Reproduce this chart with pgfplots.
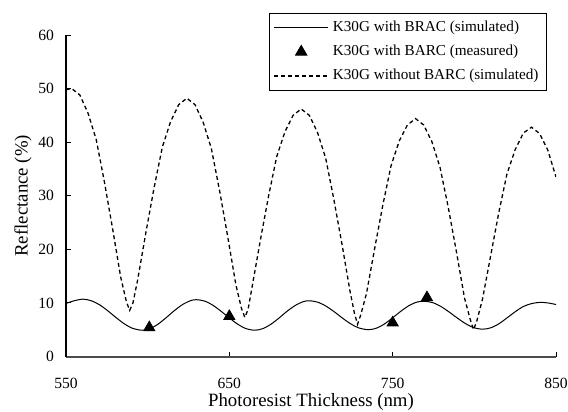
\documentclass[border=0pt]{standalone}
\usepackage{fontspec}
\setmainfont{Liberation Serif}
\usepackage{pgfplots}
\pgfplotsset{compat=1.18}
\pgfplotsset{
  lineleg/.style={legend image code/.code={\draw[##1] (0pt,0pt) -- (27pt,0pt);}},
  markleg/.style={legend image code/.code={\draw[##1] plot coordinates {(13.5pt,0pt)};}},
}

\begin{document}
\begin{tikzpicture}
\begin{axis}[
  scale only axis, width=245pt, height=160.75pt,
  xmin=550, xmax=850, ymin=0, ymax=60,
  axis lines=left, axis line style={-},
  x axis line style={gray!60!black, line width=1pt},
  y axis line style={black, line width=0.7pt},
  xtick={550,650,750,850}, ytick={0,10,...,60},
  tick align=inside, major tick length=2.5pt,
  tick style={black, line width=0.5pt},
  /pgf/number format/assume math mode=true,
  ticklabel style={font=\fontsize{7.8}{9}\selectfont},
  xticklabel style={inner sep=1pt, yshift=-9.75pt},
  yticklabel style={xshift=-2.5pt},
  xlabel={Photoresist Thickness (nm)},
  ylabel={Reflectance (\%)},
  label style={font=\fontsize{9.4}{11}\selectfont},
  xlabel style={inner sep=0pt, yshift=-1.2pt},
  ylabel style={yshift=-3.5pt},
  legend style={at={(0.9816,1.0694)}, anchor=north east, draw=black,
    line width=0.5pt, font=\fontsize{7.6}{9}\selectfont,
    row sep=1.2pt, cells={anchor=west}, inner xsep=2pt, inner ysep=2pt},
  legend cell align=left,
]
\addplot[black, line width=0.5pt, smooth, lineleg] coordinates {
  (550,9.9) (555,10.4) (560.5,10.7) (565.5,10.4) (570.5,9.66) (575.5,8.55)
  (580.5,7.3) (585.5,6.14) (590.5,5.29) (596.5,4.9) (601.5,5.2) (606.5,6.07)
  (611.5,7.29) (616.5,8.6) (621.5,9.72) (626.5,10.45) (630,10.6) (635,10.33)
  (640,9.55) (645,8.43) (650,7.2) (655,6.06) (660,5.23) (665.5,4.9)
  (670.5,5.2) (675.5,6.03) (680.5,7.2) (685.5,8.48) (690.5,9.55) (695.5,10.26)
  (699,10.4) (704,10.15) (709,9.43) (714,8.4) (719,7.23) (724,6.15)
  (729,5.36) (735,5.0) (740,5.28) (745,6.08) (750,7.23) (755,8.44)
  (760,9.5) (765,10.17) (769.5,10.3) (774.5,10.05) (779.5,9.34) (784.5,8.32)
  (789.5,7.2) (794.5,6.16) (799.5,5.4) (805,5.1) (810,5.35) (815,6.1)
  (820,7.2) (825,8.35) (830,9.33) (835,9.87) (840,10.1) (845,10.0) (850,9.7)
};
\addlegendentry{K30G with BRAC (simulated)}
\addplot[only marks, mark=triangle*, mark size=3.2pt, black, markleg] coordinates {
  (601,5.4) (650,7.5) (750,6.3) (771,11.0)
};
\addlegendentry{K30G with BARC (measured)}
\addplot[black, line width=0.65pt, dash pattern=on 2pt off 1.5pt, lineleg] coordinates {
  (550,49.8) (553.5,50.0) (558.5,48.8) (563.5,45.4) (568.5,40.5) (573.5,32.6)
  (578.5,23.9) (583.5,14.8) (587,10.2) (589,8.6) (591,10.0) (594,14.5)
  (599,23.3) (604,31.6) (609,39.1) (614,43.8) (619,47.0) (624,48.2)
  (629,47.0) (634,43.7) (639,38.8) (644,31.0) (649,22.4) (654,13.4)
  (657.5,8.9) (659.5,7.3) (661.5,8.8) (664,13.1) (669,21.7) (674,29.9)
  (679,37.3) (684,41.9) (689,45.0) (694,46.2) (699,45.0) (704,41.8)
  (709,37.0) (714,29.3) (719,20.9) (724,12.0) (726.5,8.2) (728.5,6.0)
  (730.5,7.8) (734,11.8) (739,20.2) (744,28.3) (749,35.6) (754,40.2)
  (759,43.2) (764,44.4) (769,43.2) (774,40.1) (779,35.3) (784,27.9)
  (789,19.6) (794,10.9) (797.5,6.9) (799.5,5.0) (801.5,6.6) (805,10.7)
  (810,18.8) (815,26.9) (820,34.1) (825,38.6) (830,41.7) (835,42.8)
  (840,41.6) (845,38.5) (850,33.5)
};
\addlegendentry{K30G without BARC (simulated)}
\end{axis}
\pgfresetboundingbox
\path (current axis.south west) ++(-33pt,-27.75pt) rectangle ++(284pt,206pt);
\end{tikzpicture}
\end{document}
